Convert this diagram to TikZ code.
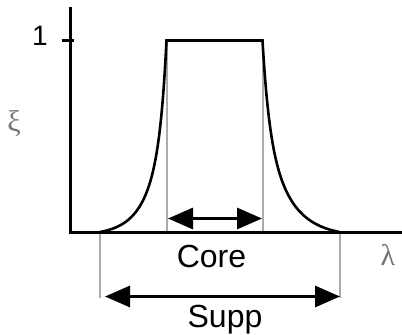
\documentclass[tikz,border=0pt]{standalone}
\usepackage{fontspec}
\setmainfont{Liberation Sans}
\newfontfamily\greekfont{Liberation Serif}
\usetikzlibrary{arrows.meta}
\begin{document}
\begin{tikzpicture}[x=1pt,y=-1pt,
  axisline/.style={line width=3pt},
  curveline/.style={line width=2.6pt},
  guide/.style={draw=black!33, line width=2pt},
  dimarrow/.style={line width=3pt,
    {Triangle[length=25pt,width=21pt]}-{Triangle[length=25pt,width=21pt]}},
  lbl/.style={inner sep=0pt, font=\fontsize{32}{36}\selectfont},
  glbl/.style={inner sep=0pt, text=black!55, font=\greekfont\fontsize{30}{34}\selectfont}]
\useasboundingbox (0,0) rectangle (402,335);
% named points
\coordinate (ytop) at (70.5,7);
\coordinate (ybot) at (70.5,233.5);
\coordinate (xstart) at (69,232);
\coordinate (xend) at (402,232);
\coordinate (tickL) at (62,40.5);
\coordinate (tickR) at (74,40.5);
\coordinate (cL) at (166.5,40.5);
\coordinate (cR) at (262.5,40.5);
\coordinate (cLb) at (166.5,232);
\coordinate (cRb) at (262.5,232);
\coordinate (sL) at (100,232);
\coordinate (sR) at (339.5,232);
\coordinate (sLb) at (100,298);
\coordinate (sRb) at (339.5,298);
\coordinate (coreA) at (168,218.5);
\coordinate (coreB) at (262,218.5);
\coordinate (suppA) at (105,296.5);
\coordinate (suppB) at (340,296.5);
% guides
\draw[guide] (cL) -- (cLb);
\draw[guide] (cR) -- (cRb);
\draw[guide] (sL) -- (sLb);
\draw[guide] (sR) -- (sRb);
% axes
\draw[axisline] (ytop) -- (ybot);
\draw[axisline] (xstart) -- (xend);
\draw[axisline] (tickL) -- (tickR);
% membership curve
\draw[curveline] (sL) -- plot[domain=0.999:0.002, samples=120, variable=\u]
  ({166.5-66.5*\u},{232-191.5*(0.4*exp(-12*\u)+0.6*exp(-3.5*\u)-0.0181)/0.9819})
  -- (cL) -- (cR)
  -- plot[domain=0.002:0.999, samples=120, variable=\u]
  ({262.5+77*\u},{232-191.5*(0.4*exp(-12*\u)+0.6*exp(-3.2*\u)-0.02446)/0.97554})
  -- (sR);
% dimension arrows
\draw[dimarrow] (coreA) -- (coreB);
\draw[dimarrow] (suppA) -- (suppB);
% labels
\node[lbl, anchor=base] (core) at (211.5,267) {Core};
\node[lbl, anchor=base] (supp) at (225,327) {Supp};
\node[inner sep=0pt, anchor=base, font=\fontsize{28}{32}\selectfont] (one) at (40,45) {1};
\node[glbl] (xi) at (14,124) {ξ};
\node[glbl] (lam) at (388,255) {λ};
\end{tikzpicture}
\end{document}
